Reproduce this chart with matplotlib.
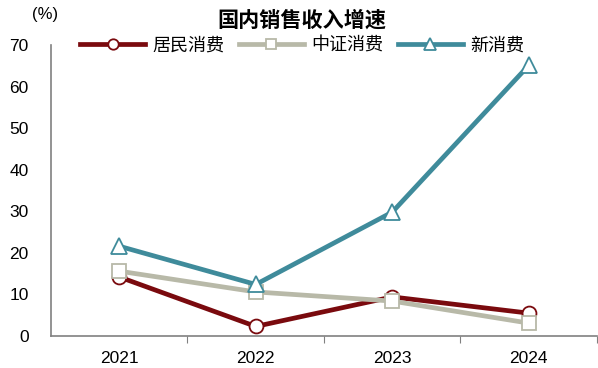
import matplotlib
matplotlib.use("Agg")
import matplotlib.pyplot as plt

plt.rcParams['font.family'] = ['Liberation Sans', 'Noto Sans CJK SC', 'DejaVu Sans']

years = ["2021", "2022", "2023", "2024"]
jumin = [14.2, 2.3, 9.4, 5.5]
zhongzheng = [15.6, 10.6, 8.4, 3.1]
xinxiaofei = [21.6, 12.4, 29.8, 65.1]

fig = plt.figure(figsize=(5.98, 3.68), dpi=100)
ax = fig.add_axes([51/598, 1-336/368, 546/598, (336-45)/368])

x = range(len(years))
lw = 3.4
ms = 10
ax.plot(x, jumin, color="#7A0A0E", lw=lw, marker="o", ms=ms, mfc="white", mec="#7A0A0E", mew=1.3, label="居民消费", zorder=3)
ax.plot(x, zhongzheng, color="#B8B9A8", lw=lw, marker="s", ms=ms, mfc="white", mec="#B8B9A8", mew=1.3, label="中证消费", zorder=3)
ax.plot(x, xinxiaofei, color="#3F8B9B", lw=lw, marker="^", ms=ms+1, mfc="white", mec="#3F8B9B", mew=1.3, label="新消费", zorder=3)

ax.set_xlim(-0.5, 3.5)
ax.set_ylim(0, 70)
ax.set_yticks(range(0, 71, 10))
ax.set_xticks([0.5, 1.5, 2.5, 3.5])
ax.set_xticklabels([])
ax.set_xticks(list(x), minor=True)
ax.set_xticklabels(years, minor=True, fontsize=12.5)
ax.tick_params(axis='x', which='major', length=5, color="#808080", direction='out')
ax.tick_params(axis='x', which='minor', length=0, pad=11)
ax.tick_params(axis='y', length=0, labelsize=12.5, pad=16)

for s in ['top', 'right']:
    ax.spines[s].set_visible(False)
ax.spines['left'].set_color("#808080")
ax.spines['bottom'].set_color("#808080")
ax.spines['left'].set_linewidth(1.2)
ax.spines['bottom'].set_linewidth(1.2)

fig.text(302/598, 1-20/368, "国内销售收入增速", ha='center', va='center', fontsize=15.2, fontweight='bold')
fig.text(45/598, 1-14/368, "(%)", ha='center', va='center', fontsize=12)

leg = ax.legend(loc='center', bbox_to_anchor=(302/598, 1-46/368), bbox_transform=fig.transFigure,
                ncol=3, frameon=False, fontsize=13, handlelength=3.6, columnspacing=0.8,
                handletextpad=0.4, markerscale=0.75)

fig.savefig("out.png", dpi=100)
